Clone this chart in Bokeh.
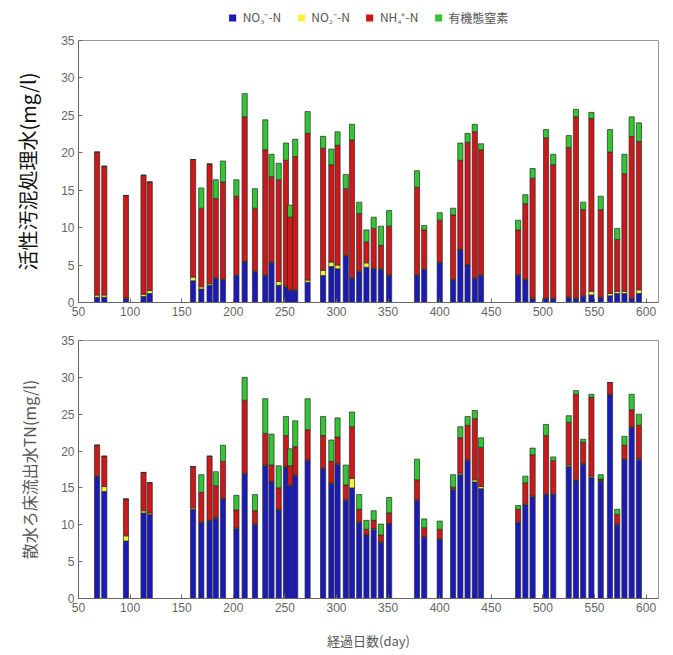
from bokeh.plotting import figure
from bokeh.models import ColumnDataSource, Range1d, FixedTicker, Legend, LegendItem
from bokeh.layouts import column
from bokeh.embed import file_html
from bokeh.resources import INLINE

# ---- data ----
days = [68, 75, 96, 113, 119, 161, 169, 177, 183, 190, 203, 211, 221, 231, 237,
        244, 251, 255, 260, 272, 287, 295, 301, 309, 315, 322, 329, 336, 343, 351,
        378, 385, 400, 413, 420, 427, 434, 440, 476, 483, 490, 503, 510, 525, 532,
        539, 547, 556, 565, 572, 579, 586, 593]

series_labels = ["NO\u2083\u207b-N", "NO\u2082\u207b-N", "NH\u2084\u207a-N", "有機態窒素"]

# upper panel: activated sludge effluent
top_no3 = [0.7, 0.7, 0.5, 0.8, 1.2, 2.9, 1.8, 2.3, 3.2, 3.0, 3.6, 5.4, 4.1, 3.6, 5.3,
           2.3, 2.1, 1.6, 1.6, 2.7, 3.6, 4.8, 4.5, 6.2, 3.2, 4.1, 4.7, 4.5, 4.4, 3.6,
           3.6, 4.4, 5.3, 3.0, 7.0, 5.0, 3.2, 3.6, 3.6, 3.0, 0.5, 0.5, 0.5, 0.6, 0.5,
           0.8, 1.0, 0.6, 0.9, 1.2, 1.2, 0.5, 1.2]
top_no2 = [0.3, 0.3, 0.1, 0.3, 0.4, 0.5, 0.3, 0.2, 0.1, 0.1, 0.1, 0.1, 0.1, 0.1, 0.1,
           0.5, 0.1, 0.1, 0.1, 0.3, 0.7, 0.6, 0.5, 0.1, 0.1, 0.1, 0.6, 0.1, 0.1, 0.1,
           0.1, 0.1, 0.1, 0.1, 0.1, 0.1, 0.1, 0.1, 0.1, 0.1, 0.1, 0.1, 0.1, 0.1, 0.1,
           0.1, 0.5, 0.1, 0.3, 0.3, 0.3, 0.1, 0.5]
top_nh4 = [19.1, 17.2, 13.7, 15.9, 14.5, 15.7, 10.5, 16.0, 10.6, 13.0, 10.5, 19.3, 8.4, 16.7, 11.4,
           13.6, 16.8, 9.7, 17.8, 19.6, 16.3, 13.0, 16.0, 8.9, 18.4, 7.7, 2.8, 5.3, 3.1, 6.5,
           11.7, 5.2, 5.6, 8.6, 11.9, 16.3, 19.5, 16.7, 6.0, 10.1, 16.0, 21.4, 17.8, 20.0, 24.2,
           11.5, 23.1, 11.7, 18.9, 6.9, 15.7, 21.6, 19.8]
top_org = [0, 0, 0, 0, 0, 0, 2.7, 0, 2.5, 2.8, 2.2, 3.1, 2.6, 4.0, 3.0,
           2.2, 2.3, 1.6, 2.3, 2.9, 1.6, 2.1, 1.8, 1.9, 2.1, 1.5, 1.6, 1.5, 2.6, 2.1,
           2.2, 0.6, 1.0, 0.9, 2.3, 1.2, 1.0, 0.8, 1.3, 1.2, 1.3, 1.1, 1.4, 1.6, 1.0,
           1.0, 0.8, 1.8, 3.0, 1.5, 2.6, 2.6, 2.5]

# lower panel: trickling filter effluent TN
bot_no3 = [16.5, 14.5, 7.8, 11.6, 11.4, 12.1, 10.3, 10.5, 10.9, 13.5, 9.5, 16.9, 10.0, 18.0, 15.8,
           12.0, 17.8, 15.3, 16.7, 18.7, 17.6, 15.6, 18.2, 13.3, 15.0, 10.3, 8.6, 9.4, 7.6, 10.1,
           13.3, 8.3, 8.0, 14.8, 16.8, 18.7, 15.8, 14.9, 10.3, 12.7, 13.8, 14.1, 14.1, 17.9, 16.0,
           18.2, 16.4, 15.9, 27.6, 10.0, 18.8, 23.2, 18.9]
bot_no2 = [0.1, 0.7, 0.7, 0.3, 0.2, 0.2, 0.1, 0.1, 0.1, 0.1, 0.1, 0.1, 0.1, 0.1, 0.1,
           0.1, 0.1, 0.1, 0.1, 0.1, 0.1, 0.1, 0.1, 0.1, 1.3, 0.1, 0.1, 0.1, 0.1, 0.1,
           0.1, 0.1, 0.1, 0.1, 0.2, 0.1, 0.3, 0.3, 0.1, 0.1, 0.1, 0.1, 0.1, 0.2, 0.1,
           0.1, 0.2, 0.1, 0.1, 0.1, 0.1, 0.1, 0.1]
bot_nh4 = [4.2, 4.1, 5.0, 5.2, 4.1, 5.6, 4.0, 8.7, 4.3, 5.0, 2.4, 9.9, 1.8, 4.3, 2.2,
           2.9, 4.2, 2.6, 3.8, 4.1, 4.4, 2.9, 3.6, 2.0, 7.0, 1.7, 0.7, 1.1, 0.9, 1.4,
           2.7, 1.2, 1.3, 0.2, 4.8, 4.7, 8.3, 5.3, 1.7, 2.9, 5.6, 7.9, 4.5, 5.8, 11.6,
           2.9, 10.7, 0.2, 1.6, 1.3, 1.9, 2.3, 4.5]
bot_org = [0, 0, 0, 0, 0, 0, 2.4, 0, 1.9, 2.2, 2.0, 3.1, 2.2, 4.7, 4.2,
           3.0, 2.6, 2.3, 3.5, 4.2, 2.6, 2.9, 2.6, 2.7, 2.0, 2.0, 1.2, 1.3, 1.5, 2.1,
           2.8, 1.2, 1.1, 1.7, 1.5, 1.2, 1.1, 1.3, 0.5, 0.9, 0.9, 1.5, 0.5, 0.9, 0.5,
           0.4, 0.4, 0.6, 0.0, 0.7, 1.2, 2.1, 1.5]

x_ticks = list(range(50, 601, 50))
y_ticks = list(range(0, 36, 5))

colors = ["#1a1ab8", "#f2f23a", "#cc1818", "#33c633"]
keys = ["no3", "no2", "nh4", "org"]
JP = "Noto Sans CJK JP"


def style(p):
    p.xaxis.ticker = FixedTicker(ticks=x_ticks)
    p.yaxis.ticker = FixedTicker(ticks=y_ticks)
    p.xgrid.visible = False
    p.ygrid.visible = False
    p.axis.major_tick_in = 4
    p.axis.major_tick_out = 0
    p.axis.minor_tick_line_color = None
    p.axis.axis_line_color = "#666666"
    p.axis.major_tick_line_color = "#666666"
    p.axis.major_label_text_font = "Liberation Sans"
    p.axis.major_label_text_font_size = "12px"
    p.axis.major_label_text_color = "#666666"
    p.axis.major_label_standoff = 4
    p.outline_line_color = "#999999"
    p.background_fill_color = "white"
    p.border_fill_color = "white"


def make(no3, no2, nh4, org, **kw):
    src = ColumnDataSource(dict(day=days, no3=no3, no2=no2, nh4=nh4, org=org))
    p = figure(x_range=Range1d(50, 612), y_range=Range1d(0, 35),
               output_backend="svg", toolbar_location=None, **kw)
    rs = p.vbar_stack(keys, x="day", width=5, source=src,
                      fill_color=colors, line_color="#2a2a2a", line_width=0.7)
    style(p)
    return p, rs


# ---- legend strip (own small figure, same frame as the top panel) ----
pl = figure(width=665, height=34, x_range=Range1d(0, 1), y_range=Range1d(0, 1),
            output_backend="svg", toolbar_location=None,
            min_border_left=75, min_border_right=7, min_border_top=0, min_border_bottom=0)
pl.axis.visible = False
pl.xgrid.visible = False
pl.ygrid.visible = False
pl.outline_line_color = None
flat = ColumnDataSource(dict(x=[0.5], top=[0.0], bottom=[0.0]))
dummies = [pl.vbar(x="x", top="top", bottom="bottom", width=0.01, source=flat,
                   fill_color=c, line_color=None) for c in colors]
legend = Legend(items=[LegendItem(label=series_labels[i], renderers=[dummies[i]]) for i in range(4)],
                orientation="horizontal", location="center")
legend.label_text_font = JP
legend.label_text_font_size = "12px"
legend.label_text_color = "#555555"
legend.glyph_width = 9
legend.glyph_height = 9
legend.label_height = 12
legend.label_standoff = 6
legend.spacing = 15
legend.padding = 2
legend.margin = 0
legend.border_line_color = None
legend.background_fill_alpha = 0
pl.add_layout(legend)

p1, rs1 = make(top_no3, top_no2, top_nh4, top_org, width=665, height=288,
               min_border_left=75, min_border_right=7, min_border_top=6, min_border_bottom=20)
p1.yaxis.axis_label = "活性汚泥処理水(mg/l)"
p1.yaxis.axis_label_text_font = JP
p1.yaxis.axis_label_text_font_size = "20px"
p1.yaxis.axis_label_text_font_style = "normal"
p1.yaxis.axis_label_text_color = "#111111"
p1.yaxis.axis_label_standoff = 16

p2, rs2 = make(bot_no3, bot_no2, bot_nh4, bot_org, width=665, height=330,
               min_border_left=78, min_border_right=7, min_border_top=18, min_border_bottom=52)
p2.yaxis.axis_label = "散水ろ床流出水TN(mg/l)"
p2.yaxis.axis_label_text_font = JP
p2.yaxis.axis_label_text_font_size = "16px"
p2.yaxis.axis_label_text_font_style = "normal"
p2.yaxis.axis_label_text_color = "#555555"
p2.yaxis.axis_label_standoff = 17
p2.xaxis.axis_label = "経過日数(day)"
p2.xaxis.axis_label_text_font = JP
p2.xaxis.axis_label_text_font_size = "13px"
p2.xaxis.axis_label_text_font_style = "normal"
p2.xaxis.axis_label_text_color = "#555555"
p2.xaxis.axis_label_standoff = 16

layout = column(pl, p1, p2, spacing=0)
open("out.html", "w").write(file_html(layout, INLINE))
